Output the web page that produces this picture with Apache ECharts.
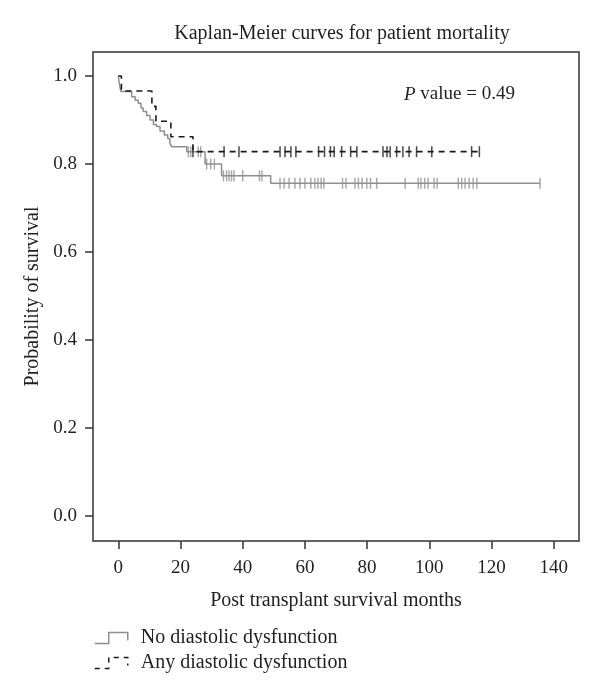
<!DOCTYPE html>
<html>
<head>
<meta charset="utf-8">
<script src="https://cdn.jsdelivr.net/npm/echarts@6/dist/echarts.min.js"></script>
<style>
html,body{margin:0;padding:0;background:#fff;}
#chart{width:600px;height:694px;}
</style>
</head>
<body>
<div id="chart"></div>
<script>
// Step data: time (months) and survival after that time
const noDDTimes = [0, 0.2, 0.8, 4.3, 5.4, 6.4, 7.3, 8.0, 9.1, 10.2, 11.3, 12.3, 13.4, 14.8, 15.9, 16.6, 17.2, 22.0, 27.9, 33.2, 49.0];
const noDDSurv  = [1, 0.988, 0.965, 0.953, 0.945, 0.938, 0.927, 0.919, 0.91, 0.90, 0.89, 0.885, 0.875, 0.866, 0.858, 0.847, 0.839, 0.828, 0.80, 0.773, 0.756];
const noDDEnd = 135.6;
const noDDCensor = [22.5, 23.3, 25.7, 26.5, 28.4, 29.7, 30.9, 33.8, 34.8, 35.6, 36.4, 37.2, 40.0, 45.4, 46.2,
  52.0, 53.3, 54.9, 56.8, 58.4, 60.0, 61.9, 63.2, 64.2, 65.2, 66.1, 72.1, 73.2, 76.1, 77.2, 78.4, 79.9, 81.1, 83.1,
  92.2, 96.4, 97.3, 98.5, 99.6, 101.5, 102.5, 109.3, 110.4, 111.5, 112.8, 114.1, 115.3, 135.6];

const anyDDTimes = [0, 1.0, 10.8, 12.1, 16.9, 24.0];
const anyDDSurv  = [1, 0.966, 0.931, 0.897, 0.862, 0.828];
const anyDDEnd = 116.1;
const anyDDCensor = [24.0, 34.0, 38.8, 52.0, 53.6, 55.5, 57.1, 64.4, 66.3, 68.2, 69.4, 71.8, 74.7, 76.7,
  85.1, 86.4, 87.4, 89.5, 91.5, 93.5, 95.9, 100.8, 113.6, 116.1];

const xTicks = [0, 20, 40, 60, 80, 100, 120, 140];
const yTicks = [0, 0.2, 0.4, 0.6, 0.8, 1.0];
const seriesNames = ['No diastolic dysfunction', 'Any diastolic dysfunction'];

function stepPoints(times, surv, end) {
  const pts = times.map((t, i) => [t, surv[i]]);
  pts.push([end, surv[surv.length - 1]]);
  return pts;
}
function levelAt(times, surv, t) {
  let s = surv[0];
  for (let i = 0; i < times.length; i++) { if (times[i] <= t) s = surv[i]; }
  return s;
}
function censorPoints(times, surv, cens) {
  return cens.map(t => [t, levelAt(times, surv, t)]);
}

const FONT = '"Liberation Serif", "DejaVu Serif", serif';
const TXT = '#231f20';
const GRAY = '#8f8f8f';
const BLACK = '#1a1a1a';

const chart = echarts.init(document.getElementById('chart'), null, {renderer: 'canvas'});
chart.setOption({
  animation: false,
  backgroundColor: '#fff',
  title: {
    text: 'Kaplan-Meier curves for patient mortality',
    left: 337, top: 19, textAlign: 'center',
    textStyle: {fontFamily: FONT, fontSize: 20, fontWeight: 'normal', color: TXT}
  },
  grid: {left: 93, right: 21, top: 52, bottom: 153, show: true, borderColor: '#333', borderWidth: 1.5, backgroundColor: 'transparent'},
  legend: {
    orient: 'vertical', left: 89, top: 623, itemGap: 5, itemWidth: 33, itemHeight: 11,
    data: [
      {name: seriesNames[0], icon: 'path://M0,11 L14,11 L14,0 L33,0 L33,8', itemStyle: {color: 'transparent', borderColor: GRAY, borderWidth: 1.5}},
      {name: seriesNames[1], icon: 'path://M0,11 L14,11 L14,0 L33,0 L33,8', itemStyle: {color: 'transparent', borderColor: BLACK, borderWidth: 1.5, borderType: [5, 5]}}
    ],
    textStyle: {fontFamily: FONT, fontSize: 20, color: TXT, padding: [0, 0, 0, 8]}
  },
  graphic: [{
    type: 'text', left: 404, top: 85,
    style: {
      text: '{i|P} value = 0.49',
      font: '19px ' + FONT, fill: TXT,
      rich: {i: {fontStyle: 'italic', fontFamily: FONT, fontSize: 19, fill: TXT}}
    }
  }],
  xAxis: {
    type: 'value', min: -8.14, max: 148.13,
    name: 'Post transplant survival months', nameLocation: 'middle', nameGap: 50,
    nameTextStyle: {fontFamily: FONT, fontSize: 20, color: TXT},
    axisLine: {show: false, onZero: false},
    axisTick: {show: true, length: 8, customValues: xTicks, lineStyle: {color: '#333', width: 1.5}},
    axisLabel: {customValues: xTicks, margin: 18, fontFamily: FONT, fontSize: 19, color: TXT},
    splitLine: {show: false}
  },
  yAxis: {
    type: 'value', min: -0.0569, max: 1.0545,
    name: 'Probability of survival', nameLocation: 'middle', nameGap: 46,
    nameTextStyle: {fontFamily: FONT, fontSize: 20, color: TXT},
    axisLine: {show: false, onZero: false},
    axisTick: {show: true, length: 8, customValues: yTicks, lineStyle: {color: '#333', width: 1.5}},
    axisLabel: {customValues: yTicks, margin: 16, fontFamily: FONT, fontSize: 19, color: TXT, formatter: v => v.toFixed(1)},
    splitLine: {show: false}
  },
  series: [
    {
      name: seriesNames[0], type: 'line', step: 'end', showSymbol: false, symbol: 'none',
      data: stepPoints(noDDTimes, noDDSurv, noDDEnd),
      lineStyle: {color: GRAY, width: 1.5}, itemStyle: {color: GRAY}, z: 2
    },
    {
      name: seriesNames[1], type: 'line', step: 'end', showSymbol: false, symbol: 'none',
      data: stepPoints(anyDDTimes, anyDDSurv, anyDDEnd),
      lineStyle: {color: BLACK, width: 1.6, type: [6, 5]}, itemStyle: {color: BLACK}, z: 4
    },
    {
      name: 'No DD censored', type: 'scatter', symbol: 'rect', symbolSize: [1.4, 11],
      data: censorPoints(noDDTimes, noDDSurv, noDDCensor),
      itemStyle: {color: GRAY}, z: 3, silent: true
    },
    {
      name: 'Any DD censored', type: 'scatter', symbol: 'rect', symbolSize: [1.5, 11],
      data: censorPoints(anyDDTimes, anyDDSurv, anyDDCensor),
      itemStyle: {color: BLACK}, z: 5, silent: true
    }
  ]
});
</script>
</body>
</html>
